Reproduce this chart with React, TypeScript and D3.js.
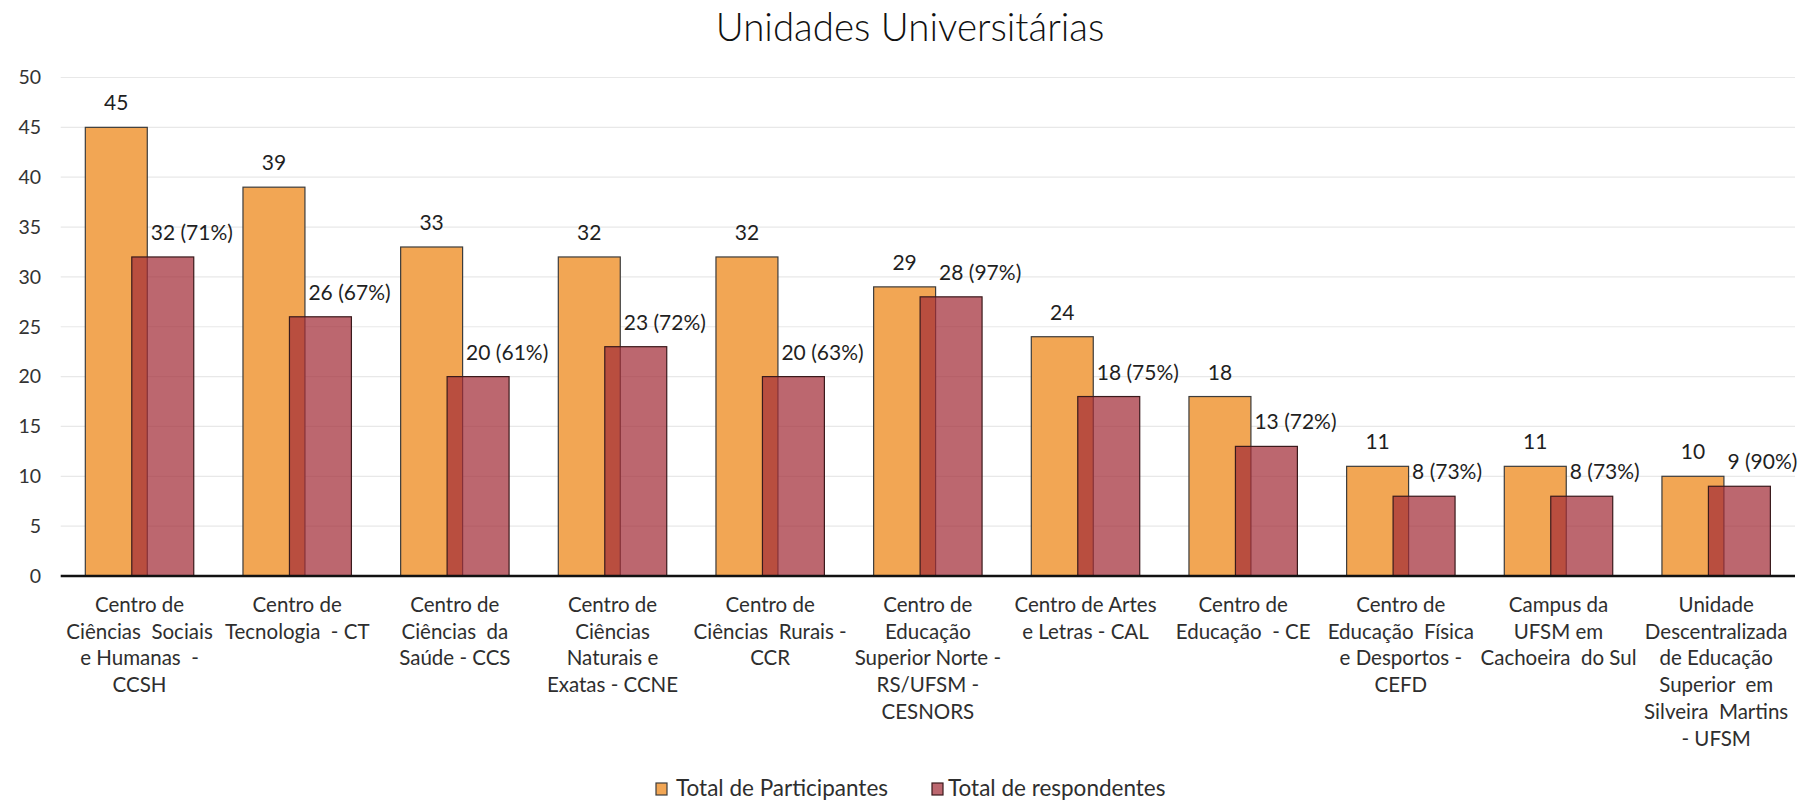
import React from "react";
import * as d3 from "d3";

// unidades (rótulos quebrados como no gráfico original)
const categories: string[][] = [
  ["Centro de", "Ciências  Sociais", "e Humanas  -", "CCSH"],
  ["Centro de", "Tecnologia  - CT"],
  ["Centro de", "Ciências  da", "Saúde - CCS"],
  ["Centro de", "Ciências", "Naturais e", "Exatas - CCNE"],
  ["Centro de", "Ciências  Rurais -", "CCR"],
  ["Centro de", "Educação", "Superior Norte -", "RS/UFSM -", "CESNORS"],
  ["Centro de Artes", "e Letras - CAL"],
  ["Centro de", "Educação  - CE"],
  ["Centro de", "Educação  Física", "e Desportos -", "CEFD"],
  ["Campus da", "UFSM em", "Cachoeira  do Sul"],
  ["Unidade", "Descentralizada", "de Educação", "Superior  em", "Silveira  Martins", "- UFSM"],
];

const participantes = [45, 39, 33, 32, 32, 29, 24, 18, 11, 11, 10];
const respondentes = [32, 26, 20, 23, 20, 28, 18, 13, 8, 8, 9];
const percentuais = ["71%", "67%", "61%", "72%", "63%", "97%", "75%", "72%", "73%", "73%", "90%"];
const yTicks = [0, 5, 10, 15, 20, 25, 30, 35, 40, 45, 50];

const seriesNames = ["Total de Participantes", "Total de respondentes"];

export default function App() {
  const W = 1809;
  const H = 802;
  const font = "Lato, 'Open Sans', sans-serif";

  const left = 60.7;
  const right = 1795;
  const x = d3
    .scaleBand<number>()
    .domain(d3.range(participantes.length))
    .range([left, right])
    .padding(0);
  const y = d3.scaleLinear().domain([0, 50]).range([576, 77.5]);

  const barW = x.bandwidth() * 0.393;
  const shift = barW * 0.75; // sobreposição das barras
  const orangeLeft = (i: number) => x(i)! + x.bandwidth() / 2 - (barW + shift) / 2;

  return (
    <svg
      width={W}
      height={H}
      style={{ position: "absolute", left: 0, top: 0, background: "#fff" }}
      fontFamily={font}
    >
      {/* titulo */}
      <text x={910} y={41} textAnchor="middle" fontSize={38.5} fontWeight={300} fill="#111">
        Unidades Universitárias
      </text>

      {/* grade */}
      {yTicks.slice(1).map((t) => (
        <line key={t} x1={left} x2={right} y1={y(t)} y2={y(t)} stroke="#e8e8e8" strokeWidth={1.2} />
      ))}
      {yTicks.map((t) => (
        <text key={t} x={41} y={y(t)} dy="0.35em" textAnchor="end" fontSize={19.5} fill="#333">
          {t}
        </text>
      ))}

      {/* barras */}
      {participantes.map((v, i) => (
        <g key={i}>
          <rect
            x={orangeLeft(i)}
            y={y(v)}
            width={barW}
            height={y(0) - y(v)}
            fill="#f2a654"
            stroke="#3c3c3c"
            strokeWidth={1.2}
          />
          <text
            x={orangeLeft(i) + barW / 2}
            y={y(v) - 17}
            textAnchor="middle"
            fontSize={21}
            fill="#1f1f1f"
          >
            {v}
          </text>
        </g>
      ))}
      {respondentes.map((v, i) => (
        <g key={i}>
          <rect
            x={orangeLeft(i) + shift}
            y={y(v)}
            width={barW}
            height={y(0) - y(v)}
            fill="rgb(162,45,56)"
            fillOpacity={0.72}
            stroke="#3a1a1c"
            strokeWidth={1.2}
          />
          <text x={orangeLeft(i) + shift + 19} y={y(v) - 17} fontSize={21} fill="#1f1f1f">
            {`${v} (${percentuais[i]})`}
          </text>
        </g>
      ))}

      {/* eixo */}
      <line x1={left} x2={right} y1={y(0)} y2={y(0)} stroke="#111" strokeWidth={2.5} />
      {categories.map((lines, i) => (
        <text
          key={i}
          x={x(i)! + x.bandwidth() / 2}
          y={612}
          textAnchor="middle"
          fontSize={20.5}
          fill="#2e2e2e"
          style={{ whiteSpace: "pre" }}
        >
          {lines.map((l, k) => (
            <tspan key={k} x={x(i)! + x.bandwidth() / 2} y={612 + k * 26.7}>
              {l}
            </tspan>
          ))}
        </text>
      ))}

      {/* legenda */}
      <rect x={656} y={783} width={11} height={12} fill="#f2a654" stroke="#3c3c3c" strokeWidth={1.2} />
      <text x={676} y={796} fontSize={22.5} fill="#2e2e2e">
        {seriesNames[0]}
      </text>
      <rect
        x={932}
        y={783}
        width={11}
        height={12}
        fill="rgb(162,45,56)"
        fillOpacity={0.72}
        stroke="#3a1a1c"
        strokeWidth={1.2}
      />
      <text x={948} y={796} fontSize={22.5} fill="#2e2e2e">
        {seriesNames[1]}
      </text>
    </svg>
  );
}
